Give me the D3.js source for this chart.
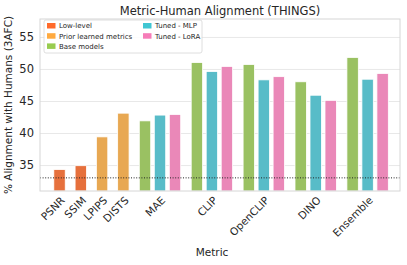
<!DOCTYPE html>
<html>
<head>
<meta charset="utf-8">
<script src="https://cdn.jsdelivr.net/npm/d3@7"></script>
<style>
  body { margin: 0; background: #fff; }
  text { font-family: "DejaVu Sans", sans-serif; fill: #262626; }
</style>
</head>
<body>
<svg id="chart" width="407" height="265"></svg>
<script>
// single-bar metrics
var singles = ["PSNR", "SSIM", "LPIPS", "DISTS"];
var single_values = [34.3, 34.9, 39.4, 43.1];
var single_type = ["Low-level", "Low-level", "Prior learned metrics", "Prior learned metrics"];

// grouped metrics: base / tuned mlp / tuned lora
var groups = ["MAE", "CLIP", "OpenCLIP", "DINO", "Ensemble"];
var base_values = [41.9, 51.0, 50.7, 48.0, 51.8];
var mlp_values = [42.8, 49.6, 48.3, 45.9, 48.4];
var lora_values = [42.9, 50.4, 48.8, 45.1, 49.3];

var y_ticks = [35, 40, 45, 50, 55];
var chance = 33;

var types = ["Low-level", "Prior learned metrics", "Base models", "Tuned - MLP", "Tuned - LoRA"];
var bar_colors = ["#e6703c", "#e8a852", "#9ac162", "#58bcc8", "#ea88b8"];
var legend_colors = ["#ff6a2a", "#ffaa40", "#98cc50", "#40c6d2", "#f67cb8"];

var margin = { top: 19, right: 7, bottom: 74, left: 40 };
var W = 407, H = 265;
var width = W - margin.left - margin.right;
var height = H - margin.top - margin.bottom;

var x = d3.scaleLinear().domain([-0.376, 6.56]).range([0, width]);
var y = d3.scaleLinear().domain([30.95, 57.8]).range([height, 0]);

var single_step = 0.41, group_start = 1.936, hue_off = 0.289, bar_w = 0.22;

var bars = [];
var ticks = [];
singles.forEach(function (m, i) {
    var cx = i * single_step;
    bars.push({ cx: cx, v: single_values[i], type: single_type[i] });
    ticks.push({ cx: cx, label: m });
});
groups.forEach(function (m, j) {
    var cx = group_start + j;
    bars.push({ cx: cx - hue_off, v: base_values[j], type: "Base models" });
    bars.push({ cx: cx, v: mlp_values[j], type: "Tuned - MLP" });
    bars.push({ cx: cx + hue_off, v: lora_values[j], type: "Tuned - LoRA" });
    ticks.push({ cx: cx, label: m });
});

var color = d3.scaleOrdinal().domain(types).range(bar_colors);

var svg = d3.select("#chart");
var g = svg.append("g").attr("transform", "translate(" + margin.left + "," + margin.top + ")");

// grid
g.append("g")
    .attr("class", "grid")
    .call(d3.axisLeft(y).tickValues(y_ticks).tickSize(-width).tickFormat(""))
    .call(function (s) {
        s.select(".domain").remove();
        s.selectAll("line").attr("stroke", "#e8e8e8").attr("stroke-width", 1);
    });

// bars
g.selectAll("rect.bar")
    .data(bars)
    .enter().append("rect")
    .attr("class", "bar")
    .attr("x", function (d) { return x(d.cx - bar_w / 2); })
    .attr("width", x(bar_w) - x(0))
    .attr("y", function (d) { return y(d.v); })
    .attr("height", function (d) { return height - y(d.v); })
    .attr("fill", function (d) { return color(d.type); })
    .attr("stroke", "#fff")
    .attr("stroke-width", 0.8);

// chance line
g.append("line")
    .attr("x1", 0).attr("x2", width)
    .attr("y1", y(chance)).attr("y2", y(chance))
    .attr("stroke", "#222")
    .attr("stroke-width", 1)
    .attr("stroke-dasharray", "1,1.6");

// frame
g.append("rect")
    .attr("width", width).attr("height", height)
    .attr("fill", "none").attr("stroke", "#d6d6d6").attr("stroke-width", 1);

// y axis
var y_axis = g.append("g")
    .call(d3.axisLeft(y).tickValues(y_ticks).tickSize(0).tickPadding(6));
y_axis.select(".domain").remove();
y_axis.selectAll("text").style("font-size", "11.5px").attr("fill", "#262626");

// x tick labels
g.selectAll("text.xt")
    .data(ticks)
    .enter().append("text")
    .attr("class", "xt")
    .attr("text-anchor", "end")
    .style("font-size", "10.5px")
    .attr("transform", function (d) {
        return "translate(" + (x(d.cx) + 6) + "," + (height + 10) + ") rotate(-45)";
    })
    .text(function (d) { return d.label; });

// title
svg.append("text")
    .attr("x", margin.left + width / 2)
    .attr("y", 15)
    .attr("text-anchor", "middle")
    .style("font-size", "11.5px")
    .text("Metric-Human Alignment (THINGS)");

// axis labels
svg.append("text")
    .attr("x", margin.left + width / 2 - 8)
    .attr("y", 256)
    .attr("text-anchor", "middle")
    .style("font-size", "10.5px")
    .text("Metric");

svg.append("text")
    .attr("transform", "translate(12," + (margin.top + height / 2) + ") rotate(-90)")
    .attr("text-anchor", "middle")
    .style("font-size", "10.5px")
    .text("% Alignment with Humans (3AFC)");

// legend
var lg = svg.append("g").attr("transform", "translate(44,20)");
lg.append("rect")
    .attr("width", 158).attr("height", 33)
    .attr("rx", 2)
    .attr("fill", "#fff").attr("fill-opacity", 0.85)
    .attr("stroke", "#d6d6d6").attr("stroke-width", 0.8);

var cols = [[0, 1, 2], [3, 4]];
cols.forEach(function (col, ci) {
    col.forEach(function (ti, ri) {
        var item = lg.append("g").attr("transform", "translate(" + (ci === 0 ? 3 : 99) + "," + (3 + ri * 10.2) + ")");
        item.append("rect")
            .attr("width", 8.5).attr("height", 5.5)
            .attr("fill", legend_colors[ti]);
        item.append("text")
            .attr("x", 12).attr("y", 5.3)
            .style("font-size", "7px")
            .text(types[ti]);
    });
});
</script>
</body>
</html>
